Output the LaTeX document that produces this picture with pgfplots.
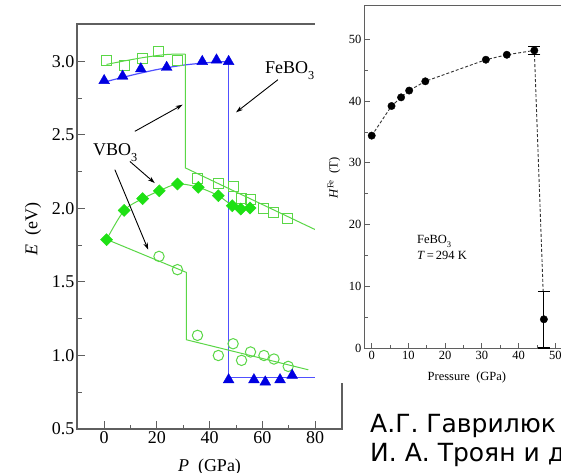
\documentclass[border=0pt]{standalone}
\usepackage{fontspec}
\setmainfont{Liberation Serif}
\newfontfamily\cyr{DejaVu Sans}
\usepackage{pgfplots}
\pgfplotsset{compat=1.18}
\usetikzlibrary{arrows.meta}
\definecolor{bl}{RGB}{0,0,225}
\definecolor{blline}{RGB}{80,80,255}
\definecolor{gr}{RGB}{30,225,20}
\definecolor{grl}{RGB}{90,215,70}
\definecolor{frame}{RGB}{95,95,95}
\newcommand{\sub}[1]{\raisebox{-0.32em}{\scalebox{0.68}{#1}}}
\begin{document}
\begin{tikzpicture}[x=1pt,y=1pt]
\useasboundingbox (0,0) rectangle (561,472);
\clip (0,0) rectangle (561,472);
\fill[white] (0,0) rectangle (561,472);
% ---------------- left panel ----------------
\begin{axis}[
  at={(77pt,43pt)}, anchor=south west,
  scale only axis, width=265pt, height=405pt,
  xmin=-10.3, xmax=90.2, ymin=0.5, ymax=3.255,
  xtick={0,20,40,60,80}, ytick={0.5,1,1.5,2,2.5,3},
  minor x tick num=1, minor y tick num=1,
  tick pos=left, tick align=inside,
  major tick length=8pt, minor tick length=4.5pt,
  tick style={frame, line width=1pt},
  axis line style={frame, line width=1.3pt},
  /pgf/number format/assume math mode=true,
  tick label style={font=\fontsize{18}{20}\selectfont, inner sep=2.5pt},
  yticklabel style={/pgf/number format/.cd, fixed, fixed zerofill, precision=1},
  xlabel={\textit{P}\ \ (GPa)},
  ylabel={\textit{E}\ \ (eV)},
  x label style={at={(axis description cs:0.5,-0.1037)}, anchor=base, font=\fontsize{18}{20}\selectfont},
  y label style={at={(axis description cs:-0.166,0.495)}, anchor=center, font=\fontsize{18}{20}\selectfont},
  clip=false,
]
% blue fit line
\addplot[blline, line width=1.2pt, smooth] coordinates {(0,2.86)(10,2.905)(20,2.945)(30,2.975)(40,2.993)(47.2,3.0)};
\addplot[blline, line width=1.2pt] coordinates {(47.2,3.0)(47.2,0.85)(85,0.85)};
% green squares fit
\addplot[grl, line width=1pt, smooth] coordinates {(0.9,2.98)(8,3.005)(16,3.03)(24,3.048)(30.8,3.05)};
\addplot[grl, line width=1pt] coordinates {(30.8,3.05)(30.8,2.276)(85,1.814)};
% circles fit
\addplot[grl, line width=1pt] coordinates {(0.9,1.79)(31.2,1.565)(31.2,1.107)(77.4,0.903)};
% diamonds line
\addplot[grl, line width=1pt, smooth, tension=0.5] coordinates {(0.9,1.788)(7.6,1.987)(14.6,2.067)(20.9,2.12)(27.8,2.167)(35.7,2.144)(43.3,2.087)(48.6,2.019)(51.8,1.997)(55.3,2.003)};
% squares
\addplot[only marks, mark=square, mark size=5pt, mark options={grl, line width=1pt}] coordinates {(0.9,3.005)(7.9,2.97)(14.6,3.02)(20.5,3.07)(27.8,3.01)(35.3,2.207)(43.3,2.17)(48.9,2.15)(51.9,2.065)(55.5,2.06)(60.3,1.997)(64.4,1.97)(69.4,1.935)};
% circles
\addplot[only marks, mark=o, mark size=5.2pt, mark options={grl, line width=1pt}] coordinates {(20.8,1.674)(27.8,1.584)(35.4,1.137)(43.3,1.0)(48.9,1.08)(52.1,0.967)(55.5,1.024)(60.6,1.0)(64.4,0.976)(69.8,0.926)};
% diamonds
\addplot[only marks, mark=square*, mark size=4.3pt, mark options={gr, fill=gr, rotate=45}] coordinates {(0.9,1.788)(7.6,1.987)(14.6,2.067)(20.9,2.12)(27.8,2.167)(35.7,2.144)(43.3,2.087)(48.6,2.019)(51.8,1.997)(55.3,2.003)};
% triangles
\addplot[only marks, mark=triangle*, mark size=6.2pt, mark options={bl, fill=bl}] coordinates {(0,2.87)(7.0,2.90)(13.9,2.95)(23.7,2.96)(37.2,3.00)(42.6,3.01)(47.2,3.00)(47.2,0.835)(56.8,0.835)(61.1,0.82)(66.7,0.835)(71.3,0.865)};
% labels and arrows
\node[anchor=base west, font=\fontsize{18}{20}\selectfont, inner sep=0pt] at (axis cs:61,2.917) {FeBO\sub{3}};
\node[anchor=base west, font=\fontsize{18}{20}\selectfont, inner sep=0pt] at (axis cs:-4.3,2.359) {VBO\sub{3}};
\draw[black, line width=0.9pt, -{Stealth[length=7pt,width=4.5pt]}] (axis cs:65.9,2.876) -- (axis cs:50.0,2.654);
\draw[black, line width=0.9pt, -{Stealth[length=7pt,width=4.5pt]}] (axis cs:11.65,2.525) -- (axis cs:29.75,2.706);
\draw[black, line width=0.9pt, -{Stealth[length=7pt,width=4.5pt]}] (axis cs:9.75,2.32) -- (axis cs:19.2,2.173);
\draw[black, line width=0.9pt, -{Stealth[length=7pt,width=4.5pt]}] (axis cs:4.06,2.264) -- (axis cs:16.7,1.72);
\end{axis}
% white background of right panel
\fill[white] (315,89) rectangle (561,472);
% ---------------- right panel ----------------
\begin{axis}[
  at={(364pt,124pt)}, anchor=south west,
  scale only axis, width=209.6pt, height=342pt,
  xmin=-2.1, xmax=55, ymin=0, ymax=55.4,
  xtick={0,10,20,30,40,50}, ytick={0,10,20,30,40,50},
  minor x tick num=1, minor y tick num=1,
  tick pos=left, tick align=inside,
  major tick length=5.5pt, minor tick length=3.5pt,
  tick style={frame, line width=0.8pt},
  axis line style={frame, line width=1pt},
  /pgf/number format/assume math mode=true,
  tick label style={font=\fontsize{12.5}{14}\selectfont, inner sep=2.5pt},
  xlabel={Pressure\ \ (GPa)},
  ylabel={\textit{H}\textsuperscript{Fe}\ \ (T)},
  x label style={at={(axis description cs:0.491,-0.085)}, anchor=center, font=\fontsize{12.5}{14}\selectfont},
  y label style={at={(axis description cs:-0.143,0.497)}, anchor=center, font=\fontsize{12.5}{14}\selectfont},
  clip=false,
]
\addplot[black!80, line width=0.9pt, dash pattern=on 3pt off 2pt] coordinates {(0,34.4)(5.4,39.2)(8.0,40.6)(10.2,41.7)(14.6,43.2)(31.1,46.7)(36.8,47.5)(44.3,48.2)(46.7,9.2)};
\addplot[only marks, mark=*, mark size=3.7pt, mark options={black}] coordinates {(0,34.4)(5.4,39.2)(8.0,40.6)(10.2,41.7)(14.6,43.2)(31.1,46.7)(36.8,47.5)};
\addplot[only marks, mark=*, mark size=3.7pt, mark options={black},
  error bars/.cd, y dir=both, y explicit,
  error mark=-,
  error mark options={rotate=90, black, mark size=6pt, line width=1.2pt},
  error bar style={black, line width=0.9pt}]
  table[x=x, y=y, y error plus=ep, y error minus=em] {
  x y ep em
  44.3 48.2 0.6 0.6
  46.9 4.65 4.55 4.65
};
\node[anchor=base west, font=\fontsize{12.5}{14}\selectfont, inner sep=0pt] at (axis cs:12.3,17.0) {FeBO\sub{3}};
\node[anchor=base west, font=\fontsize{12.5}{14}\selectfont, inner sep=0pt] at (axis cs:12.3,14.3) {\textit{T}\,=\,294 K};
\end{axis}
% ---------------- authors ----------------
\node[anchor=base west, inner sep=0pt, font=\cyr\fontsize{25}{25}\selectfont] at (370,40) {А.Г. Гаврилюк};
\node[anchor=base west, inner sep=0pt, font=\cyr\fontsize{25}{25}\selectfont] at (370,10.3) {И. А. Троян и др.};
\end{tikzpicture}
\end{document}
